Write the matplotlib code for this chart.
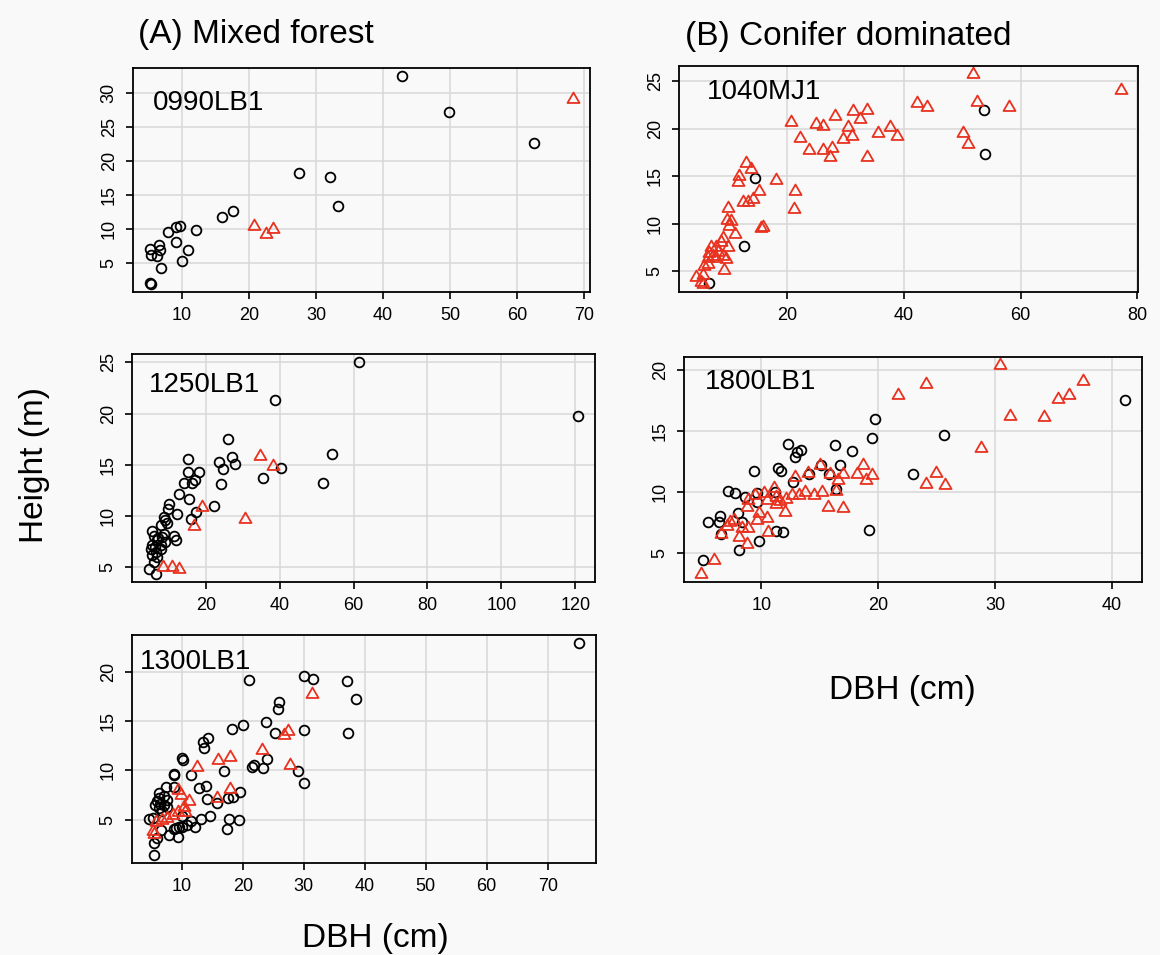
import matplotlib.pyplot as plt
from matplotlib.path import Path

plt.rcParams['font.family'] = ['Liberation Sans', 'DejaVu Sans']
plt.rcParams['xtick.labelsize'] = 13
plt.rcParams['ytick.labelsize'] = 13

# ---- (A) Mixed forest: 0990LB1
p1_circ_dbh = [42.8, 49.8, 62.6, 27.5, 32.1, 33.3, 17.6, 16.0, 12.1, 9.76, 9.1, 7.9, 9.1, 10.9, 10.0,
               6.5, 6.7, 5.2, 5.4, 6.3, 6.8, 5.3, 5.2]
p1_circ_h = [32.5, 27.3, 22.7, 18.3, 17.6, 13.3, 12.7, 11.8, 9.75, 10.4, 10.2, 9.5, 8.1, 6.85, 5.2,
             7.6, 6.85, 7.0, 6.1, 6.0, 4.2, 1.9, 1.95]
p1_tri_dbh = [68.4, 20.8, 22.5, 23.6]
p1_tri_h = [29.1, 10.4, 9.2, 10.0]

# ---- 1250LB1
p2_circ_dbh = [61.6, 120.7, 38.7, 26.0, 54.3, 27.1, 27.9, 23.6, 24.7, 40.5, 35.6, 51.7, 24.2, 15.2, 15.1,
               18.2, 14.0, 16.2, 17.0, 12.7, 15.5, 22.2, 17.4, 15.9, 12.3, 10.1, 9.8, 8.7, 9.0, 9.6,
               7.8, 11.4, 11.9, 5.6, 6.0, 8.7, 6.9, 9.0, 7.8, 5.1, 6.5, 7.8, 5.6, 6.0, 4.7,
               6.5, 5.4, 7.2, 6.3, 8.2, 6.8]
p2_circ_h = [25.0, 19.8, 21.3, 17.5, 16.1, 15.75, 15.1, 15.3, 14.6, 14.7, 13.7, 13.2, 13.1, 15.6, 14.3,
             14.3, 13.2, 13.2, 13.5, 12.2, 11.65, 11.0, 10.4, 9.7, 10.25, 11.2, 10.7, 9.9, 9.6, 9.3,
             9.1, 8.1, 7.65, 8.6, 8.1, 8.3, 7.65, 7.5, 7.15, 6.8, 6.5, 6.8, 6.2, 5.5, 4.8,
             4.4, 7.2, 7.9, 7.0, 8.0, 6.0]
p2_tri_dbh = [34.7, 38.1, 19.1, 16.8, 30.6, 8.5, 11.0, 12.8]
p2_tri_h = [15.9, 14.9, 10.9, 9.0, 9.7, 5.0, 5.0, 4.8]

# ---- 1300LB1
p3_circ_dbh = [75.1, 21.0, 30.0, 31.5, 37.1, 38.5, 26.0, 25.8, 23.8, 20.1, 18.3, 25.3, 30.1, 37.2, 14.3,
               13.5, 13.6, 23.9, 21.5, 21.9, 23.3, 29.0, 30.1, 10.2, 10.0, 8.7, 8.8, 11.5, 16.9, 12.8,
               14.0, 14.1, 15.7, 17.6, 18.4, 19.5, 13.1, 14.6, 17.8, 19.4, 17.4, 12.1, 10.9, 10.1, 9.0,
               8.7, 7.4, 6.3, 7.1, 6.0, 6.5, 5.6, 7.0, 6.3, 7.6, 6.8, 5.2, 4.65, 6.55, 6.0,
               7.9, 9.3, 5.5, 5.5, 8.7, 9.5, 11.5, 10.1, 6.2, 7.5]
p3_circ_h = [22.9, 19.2, 19.6, 19.3, 19.1, 17.3, 16.9, 16.2, 14.9, 14.6, 14.2, 13.8, 14.1, 13.8, 13.3,
             12.85, 12.25, 11.2, 10.3, 10.5, 10.2, 9.95, 8.7, 11.1, 11.3, 9.6, 9.5, 9.55, 9.9, 8.2,
             8.4, 7.1, 6.7, 7.2, 7.3, 7.85, 5.05, 5.4, 5.1, 5.0, 4.0, 4.25, 4.5, 4.25, 4.15,
             8.35, 8.35, 7.7, 7.35, 6.85, 6.6, 6.5, 6.5, 6.2, 6.3, 5.9, 5.2, 5.1, 3.9, 3.1,
             3.4, 3.25, 2.6, 1.45, 4.0, 4.2, 4.9, 5.4, 7.2, 7.0]
p3_tri_dbh = [31.4, 27.4, 26.8, 23.1, 27.8, 16.0, 17.9, 12.5, 15.7, 17.9, 9.3, 9.8, 11.2, 10.4, 10.6,
              5.7, 6.8, 7.65, 8.5, 9.3, 5.2, 5.5]
p3_tri_h = [17.8, 14.0, 13.6, 12.1, 10.55, 11.1, 11.35, 10.3, 7.15, 8.1, 8.0, 7.5, 6.85, 6.3, 5.8,
            4.8, 5.0, 5.2, 5.5, 5.8, 3.8, 3.5]

# ---- (B) Conifer dominated: 1040MJ1
p4_circ_dbh = [53.8, 53.9, 14.5, 12.6, 6.6]
p4_circ_h = [21.96, 17.3, 14.8, 7.7, 3.75]
p4_tri_dbh = [51.8, 77.2, 42.3, 44.0, 52.5, 58.0, 50.1, 50.9, 20.7, 24.85, 26.1, 28.1, 31.25, 33.6, 32.4,
              30.4, 31.1, 29.6, 22.1, 23.7, 26.1, 27.7, 27.3, 33.6, 35.6, 37.6, 38.8, 13.0, 13.8, 11.8,
              11.6, 18.1, 21.4, 21.1, 15.2, 14.1, 12.4, 13.2, 15.8, 15.5, 9.85, 9.6, 10.4, 9.95, 11.0,
              8.9, 8.6, 6.9, 7.8, 9.8, 6.65, 7.2, 8.1, 8.9, 6.4, 7.8, 9.5, 9.2, 5.8, 6.4,
              4.35, 5.5, 5.2, 5.5]
p4_tri_h = [25.7, 24.1, 22.7, 22.3, 22.75, 22.3, 19.5, 18.4, 20.7, 20.5, 20.3, 21.3, 21.85, 21.95, 21.0,
            20.2, 19.2, 18.9, 19.05, 17.8, 17.7, 18.0, 17.0, 17.0, 19.5, 20.2, 19.2, 16.4, 15.8, 15.0,
            14.4, 14.6, 13.4, 11.55, 13.4, 12.6, 12.3, 12.3, 9.7, 9.6, 11.6, 10.4, 10.3, 9.8, 8.9,
            8.5, 8.05, 7.5, 7.5, 7.6, 6.9, 6.65, 7.0, 6.65, 6.4, 6.35, 6.3, 5.1, 5.6, 5.8,
            4.4, 4.6, 3.9, 3.7]

# ---- 1800LB1
p5_circ_dbh = [41.1, 19.7, 19.45, 25.65, 12.25, 16.3, 17.8, 13.4, 13.05, 12.9, 11.4, 11.7, 9.35, 15.1, 16.75,
               15.8, 14.1, 12.75, 23.0, 16.4, 19.2, 11.2, 9.6, 9.6, 8.6, 7.8, 7.2, 6.44, 6.35, 5.45,
               7.98, 8.4, 6.6, 9.77, 8.06, 11.3, 11.85, 5.0]
p5_circ_h = [17.5, 16.0, 14.45, 14.65, 13.95, 13.85, 13.4, 13.45, 13.3, 12.9, 11.95, 11.7, 11.7, 12.25, 12.25,
             11.5, 11.5, 10.85, 11.5, 10.25, 6.95, 10.0, 9.9, 9.2, 9.6, 9.9, 10.1, 8.08, 7.6, 7.6,
             8.27, 7.6, 6.6, 6.03, 5.27, 6.8, 6.75, 4.5]
p5_tri_dbh = [30.4, 37.5, 36.3, 35.4, 31.3, 34.2, 24.1, 21.7, 28.8, 18.7, 18.2, 19.45, 19.0, 17.0, 16.6,
              15.9, 15.0, 14.0, 12.9, 24.9, 24.1, 25.7, 16.4, 15.75, 17.0, 15.2, 14.5, 13.75, 13.2, 12.6,
              12.1, 11.6, 11.3, 11.1, 10.5, 10.2, 9.5, 8.9, 8.8, 9.8, 10.5, 9.6, 8.9, 8.06, 8.8,
              10.6, 7.35, 7.1, 6.6, 7.65, 8.35, 12.0, 11.3, 5.93, 4.85]
p5_tri_h = [20.35, 19.1, 17.9, 17.6, 16.2, 16.1, 18.85, 17.95, 13.6, 12.2, 11.5, 11.4, 11.0, 11.5, 11.0,
            11.5, 12.2, 11.55, 11.2, 11.6, 10.7, 10.55, 10.1, 8.8, 8.7, 9.98, 9.8, 10.0, 9.75, 9.75,
            9.44, 9.28, 9.6, 10.3, 9.35, 9.9, 9.75, 9.35, 8.8, 8.27, 7.9, 7.7, 7.04, 6.36, 5.8,
            6.75, 7.6, 7.2, 6.6, 7.7, 7.1, 8.4, 9.0, 4.45, 3.35]

site_names = ['0990LB1', '1250LB1', '1300LB1', '1040MJ1', '1800LB1']
x_ticks = [range(10, 71, 10), range(20, 121, 20), range(10, 71, 10), range(20, 81, 20), range(10, 41, 10)]
y_ticks = [range(5, 31, 5), range(5, 26, 5), range(5, 21, 5), range(5, 26, 5), range(5, 21, 5)]

W, H = 1160, 955
bg = '#f9f9f9'
red = '#e8321f'
tri = Path([(0, 1), (-0.866, -0.5), (0.866, -0.5), (0, 1)],
           [Path.MOVETO, Path.LINETO, Path.LINETO, Path.CLOSEPOLY])

fig = plt.figure(figsize=(W / 100, H / 100), dpi=100, facecolor=bg)

# panel boxes in pixels: left, top, right, bottom
boxes = [(133, 68, 590, 292), (132, 354, 595, 582), (132, 635, 596, 863),
         (679, 66, 1138, 292), (684, 357, 1142, 582)]
label_pos = [(153, 103), (149, 385), (140, 662), (707, 92), (705, 382)]

data = [(p1_circ_dbh, p1_circ_h, p1_tri_dbh, p1_tri_h),
        (p2_circ_dbh, p2_circ_h, p2_tri_dbh, p2_tri_h),
        (p3_circ_dbh, p3_circ_h, p3_tri_dbh, p3_tri_h),
        (p4_circ_dbh, p4_circ_h, p4_tri_dbh, p4_tri_h),
        (p5_circ_dbh, p5_circ_h, p5_tri_dbh, p5_tri_h)]

for i, (cx, cy, tx, ty) in enumerate(data):
    l, t, r, b = boxes[i]
    ax = fig.add_axes([l / W, 1 - b / H, (r - l) / W, (b - t) / H], facecolor=bg)
    ax.grid(True, color='#d8d8d8', linewidth=1.1)
    ax.set_axisbelow(True)
    ax.plot(cx, cy, linestyle='none', marker='o', markersize=7, mfc='none', mec='black', mew=1.3)
    ax.plot(tx, ty, linestyle='none', marker=tri, markersize=10, mfc='none', mec=red, mew=1.3)
    ax.margins(0.04)
    ax.set_xticks(list(x_ticks[i]))
    ax.set_yticks(list(y_ticks[i]))
    ax.set_xticklabels([str(v) for v in x_ticks[i]], fontsize=13)
    ax.set_yticklabels([str(v) for v in y_ticks[i]], fontsize=13, rotation=90, va='center')
    ax.tick_params(length=5, width=1.2, pad=6)
    for s in ax.spines.values():
        s.set_linewidth(1.3)
    lx, ly = label_pos[i]
    fig.text(lx / W, 1 - ly / H, site_names[i], fontsize=20, ha='left', va='center')

fig.text(138 / W, 1 - 35 / H, '(A) Mixed forest', fontsize=24, ha='left', va='center')
fig.text(685 / W, 1 - 36 / H, '(B) Conifer dominated', fontsize=24, ha='left', va='center')
fig.text(35 / W, 1 - 465 / H, 'Height (m)', fontsize=24, rotation=90, ha='center', va='center')
fig.text(375 / W, 1 - 938 / H, 'DBH (cm)', fontsize=24, ha='center', va='center')
fig.text(902 / W, 1 - 690 / H, 'DBH (cm)', fontsize=24, ha='center', va='center')

fig.savefig('out.png', dpi=100, facecolor=bg)
